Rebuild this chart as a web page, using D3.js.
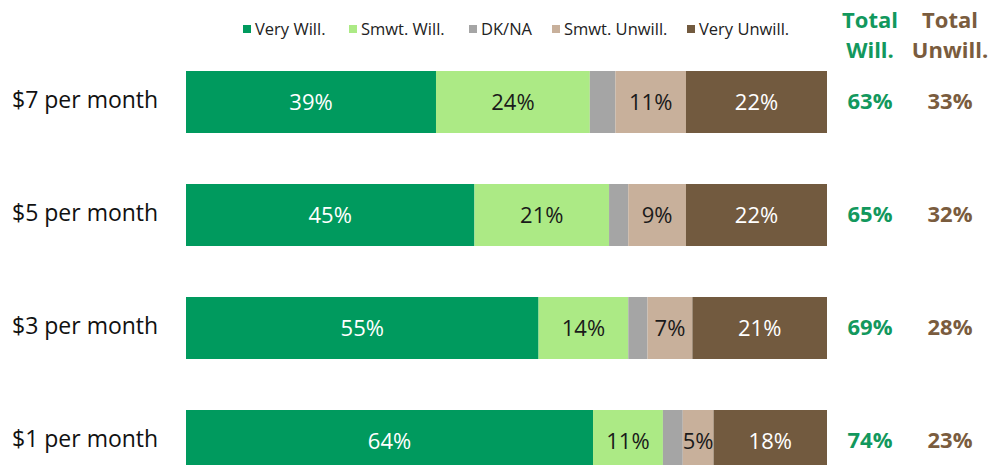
<!DOCTYPE html>
<html>
<head>
<meta charset="utf-8">
<script src="https://cdn.jsdelivr.net/npm/d3@7"></script>
<style>
  html, body { margin: 0; padding: 0; background: #fff; overflow: hidden; }
  svg { display: block; font-family: "Open Sans", sans-serif; }
</style>
</head>
<body>
<div id="chart"></div>
<script>
// data
const categories = ["$7 per month", "$5 per month", "$3 per month", "$1 per month"];
const seriesNames = ["Very Will.", "Smwt. Will.", "DK/NA", "Smwt. Unwill.", "Very Unwill."];
const veryWill = [39, 45, 55, 63.5];
const smwtWill = [24, 21, 14, 10.9];
const dkNa = [4, 3, 3, 3.1];
const smwtUnwill = [11, 9, 7, 4.8];
const veryUnwill = [22, 22, 21, 17.7];
const totalWill = [63, 65, 69, 74];
const totalUnwill = [33, 32, 28, 23];

const colors = ["#009a5e", "#acea85", "#a5a5a5", "#c8b09b", "#725a3f"];
const labelColors = ["#ffffff", "#1a1a1a", null, "#1a1a1a", "#ffffff"];
const greenText = "#12985d";
const brownText = "#7a5c3e";

const width = 990, height = 465;

const svg = d3.select("#chart")
    .append("svg")
    .attr("width", width)
    .attr("height", height);

const x = d3.scaleLinear()
    .domain([0, 100])
    .range([186, 827]);

const y = d3.scaleBand()
    .domain(categories)
    .range([71, 472])
    .paddingInner(51 / 113)
    .paddingOuter(0);

// build rows for the stack
const table = categories.map((c, i) => ({
    cat: c,
    "Very Will.": veryWill[i],
    "Smwt. Will.": smwtWill[i],
    "DK/NA": dkNa[i],
    "Smwt. Unwill.": smwtUnwill[i],
    "Very Unwill.": veryUnwill[i]
}));

const stacked = d3.stack().keys(seriesNames)(table);

const layers = svg.selectAll(".layer")
    .data(stacked)
    .join("g")
    .attr("class", "layer")
    .attr("fill", (d, i) => colors[i]);

layers.selectAll("rect")
    .data(d => d)
    .join("rect")
    .attr("x", d => x(d[0]))
    .attr("y", d => y(d.data.cat))
    .attr("width", d => x(d[1]) - x(d[0]))
    .attr("height", y.bandwidth());

// value labels inside the bars (no label for DK/NA)
stacked.forEach((layer, i) => {
    if (!labelColors[i]) return;
    svg.append("g")
        .selectAll("text")
        .data(layer)
        .join("text")
        .attr("x", d => (x(d[0]) + x(d[1])) / 2)
        .attr("y", d => y(d.data.cat) + y.bandwidth() / 2)
        .attr("dy", "0.36em")
        .attr("text-anchor", "middle")
        .attr("fill", labelColors[i])
        .style("font-size", "22px")
        .text(d => Math.round(d[1] - d[0]) + "%");
});

// category labels
svg.append("g")
    .selectAll("text")
    .data(categories)
    .join("text")
    .attr("x", 12)
    .attr("y", d => y(d) + y.bandwidth() / 2 - 2)
    .attr("dy", "0.36em")
    .attr("fill", "#111")
    .style("font-size", "23px")
    .text(d => d);

// legend
const legendX = [243, 349, 469, 552, 687];
const legend = svg.append("g")
    .selectAll("g")
    .data(seriesNames)
    .join("g")
    .attr("transform", (d, i) => `translate(${legendX[i]},29)`);

legend.append("rect")
    .attr("x", 0)
    .attr("y", -4)
    .attr("width", 8)
    .attr("height", 8)
    .attr("fill", (d, i) => colors[i]);

legend.append("text")
    .attr("x", 12)
    .attr("y", 0)
    .attr("dy", "0.35em")
    .attr("fill", "#222")
    .style("font-size", "16.5px")
    .text(d => d);

// totals
const totCols = [
    { x: 870, lines: ["Total", "Will."], vals: totalWill, color: greenText },
    { x: 950, lines: ["Total", "Unwill."], vals: totalUnwill, color: brownText }
];

totCols.forEach(col => {
    const g = svg.append("g").attr("fill", col.color).style("font-weight", "bold");
    g.selectAll(".head")
        .data(col.lines)
        .join("text")
        .attr("class", "head")
        .attr("x", col.x)
        .attr("y", (d, i) => 20 + i * 30)
        .attr("dy", "0.36em")
        .attr("text-anchor", "middle")
        .style("font-size", "22px")
        .text(d => d);
    g.selectAll(".val")
        .data(col.vals)
        .join("text")
        .attr("class", "val")
        .attr("x", col.x)
        .attr("y", (d, i) => y(categories[i]) + y.bandwidth() / 2 - 1)
        .attr("dy", "0.36em")
        .attr("text-anchor", "middle")
        .style("font-size", "22px")
        .text(d => d + "%");
});
</script>
</body>
</html>
